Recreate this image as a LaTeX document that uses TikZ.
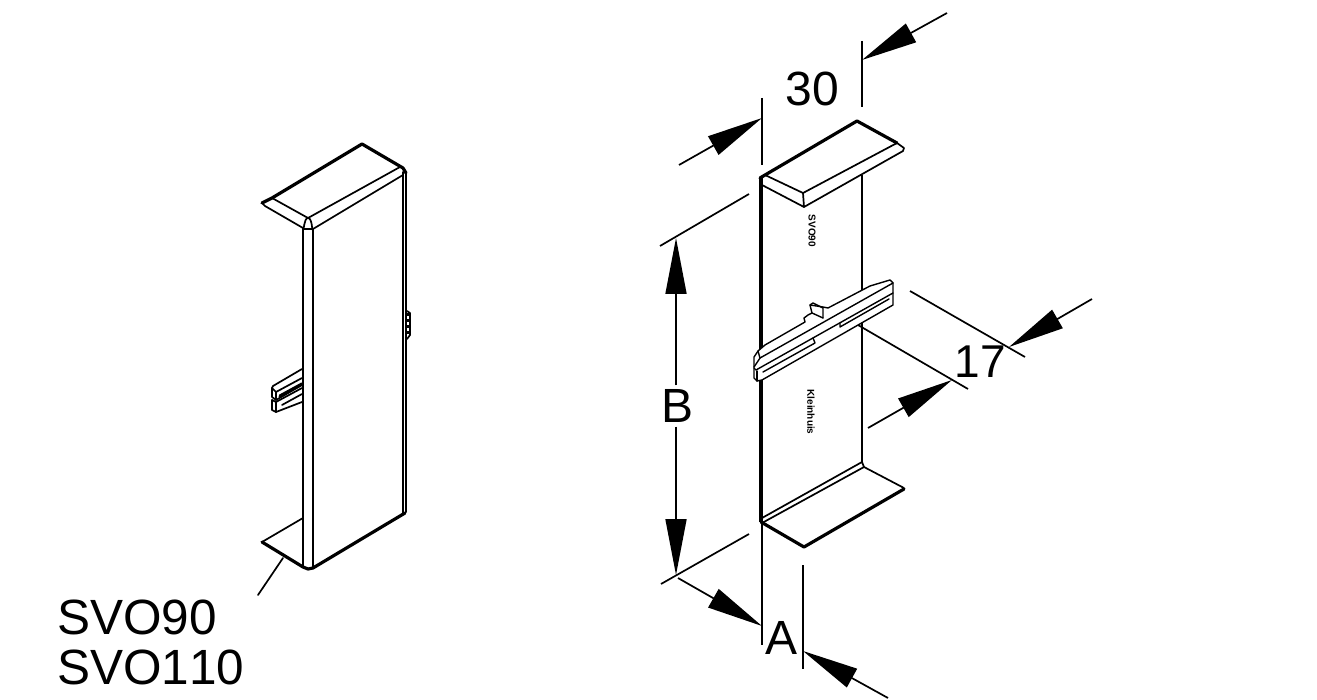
\documentclass[tikz,border=0pt]{standalone}
\usepackage{fontspec}
\setmainfont{Liberation Sans}
\usetikzlibrary{arrows.meta}
\tikzset{
  thin line/.style={line width=1.7pt,line join=round,line cap=round},
  clip line/.style={line width=1.4pt,line join=round,line cap=round},
  thick line/.style={line width=3.2pt,line join=round,line cap=round},
  body/.style={clip line,fill=white},
  dimline/.style={line width=1.7pt,-{Triangle[length=56pt,width=21pt]}},
  extline/.style={line width=1.7pt},
  lab/.style={font=\fontsize{48}{48}\selectfont,inner sep=0pt},
  codelab/.style={font=\fontsize{49.5}{49.5}\selectfont\addfontfeature{Kerning=Off},inner sep=0pt,anchor=base west},
  mark text/.style={font=\fontsize{10}{10}\selectfont\bfseries,inner sep=0pt,rotate=-90}
}
\begin{document}
\begin{tikzpicture}[x=1pt,y=-1pt]
\useasboundingbox (0,0) rectangle (1317,700);
\fill[white] (0,0) rectangle (1317,700);

% ---------- left part ----------
\draw[thin line] (303,228) -- (303,566);
\draw[thin line] (313,229) -- (313,567);
\draw[thin line] (403,172) -- (403,513);
\draw[thin line] (406,173) -- (406,512);
% top plate
\draw[thick line] (262,203) -- (272,198) -- (362,144) -- (403,168) -- (406,173);
\draw[thin line] (262,203) -- (265,206) -- (303,228);
\draw[thin line] (272,198) -- (308,218) -- (400,167);
\draw[thin line] (313,229) -- (403,175);
\draw[thin line] (303,228) to[out=-75,in=180] (308,218) to[out=0,in=-105] (313,229);
\draw[thin line] (303,229) -- (313,229);
% bottom plate
\draw[thin line] (262,542) -- (303,518);
\draw[thick line] (262,542) -- (303,567) -- (308,569) -- (313,568) -- (405,513);
\draw[thin line] (283,558) -- (258,595);
% rear clip
\draw[thin line,fill=white] (407,311) -- (410,313) -- (410,335) -- (407,339);
\draw[line width=2.5pt,dash pattern=on 3pt off 3pt] (408.5,313) -- (408.5,336);
% front clip
\draw[thin line] (302,369) -- (273,386) -- (272,388) -- (272,397) -- (276,400) -- (302,385);
\draw[thin line] (272,388) -- (276,392) -- (276,400);
\draw[thin line] (276,392) -- (302,378);
\draw[thick line] (280,396) -- (302,384);
\draw[thin line] (272,400) -- (272,410) -- (276,412) -- (302,402);
\draw[thin line] (272,400) -- (276,402) -- (276,412);
\draw[thin line] (276,402) -- (302,388);
\draw[thin line] (282,405) -- (302,394);

% ---------- right part ----------
\draw[extline] (862,175) -- (862,462);
\draw[line width=3.2pt] (761,178) -- (761,522);
\draw[extline] (762,522) -- (762,645);
% top plate
\draw[thick line] (760,178) -- (765,175) -- (857,121) -- (897,143);
\draw[thin line] (897,143) -- (904,148) -- (903,151) -- (804,207) -- (762,185);
\draw[thin line] (765,175) -- (803,193) -- (804,207);
\draw[thin line] (803,193) -- (897,143);
\draw[thin line] (760,179) -- (762,185);
% bottom plate
\draw[thin line] (762,518) -- (862,462) -- (864,467) -- (904,488);
\draw[thin line] (762,523) -- (864,467);
\draw[thick line] (761,522) -- (804,547) -- (904,489);
% wall lettering
\node[mark text] (m1) at (812,231) {SVO90};
\node[mark text] (m2) at (811,412) {Kleinhuis};
% clip
\draw[body] (890,280) -- (870,286) -- (828,308) -- (823,307) -- (810,305)
  -- (812,313) -- (808,315) -- (804,318) -- (805,322) -- (765,345) -- (758,351)
  -- (754,357) -- (754,378) -- (757,381) -- (762,380) -- (893,305) -- (893,283) -- cycle;
\draw[clip line] (758,351) -- (760,358) -- (754,367);
\draw[clip line] (760,358) -- (893,283);
\draw[clip line] (754,368) -- (756,370) -- (893,293);
\draw[clip line] (757,371) -- (757,381);
\draw[clip line] (810,305) -- (813,303) -- (823,308) -- (823,318);
\draw[clip line] (812,313) -- (823,318);
% slots
\draw[clip line] (813,338) -- (815,343) -- (763,372);
\draw[clip line] (840,323) -- (840,327) -- (889,299);

% ---------- dimensions ----------
\coordinate (e1a) at (762,98);  \coordinate (e1b) at (762,165);
\coordinate (e2a) at (862,41);  \coordinate (e2b) at (862,107);
\draw[extline] (e1a) -- (e1b);
\draw[extline] (e2a) -- (e2b);
\coordinate (t1) at (679,165); \coordinate (h1) at (762,118);
\coordinate (t2) at (947,13);  \coordinate (h2) at (862,60);
\draw[dimline] (t1) -- (h1);
\draw[dimline] (t2) -- (h2);
\node[lab] (n30) at (812,89) {30};

\coordinate (e3a) at (660,246); \coordinate (e3b) at (749,194);
\coordinate (e4a) at (661,584); \coordinate (e4b) at (749,534);
\draw[extline] (e3a) -- (e3b);
\draw[extline] (e4a) -- (e4b);
\node[lab] (nB) at (677,406) {B};
\coordinate (h3) at (676,238); \coordinate (h4) at (676,575);
\draw[dimline] (nB.north) ++(-1,-4) -- (h3);
\draw[dimline] (nB.south) ++(-1,4) -- (h4);

\coordinate (e5a) at (803,565); \coordinate (e5b) at (803,669);
\draw[extline] (e5a) -- (e5b);
\coordinate (t5) at (678,578); \coordinate (h5) at (762,626);
\coordinate (t6) at (888,698); \coordinate (h6) at (803,651);
\draw[dimline] (t5) -- (h5);
\draw[dimline] (t6) -- (h6);
\node[lab] (nA) at (781,638) {A};

\coordinate (e6a) at (910,291); \coordinate (e6b) at (1025,357);
\coordinate (e7a) at (858,325); \coordinate (e7b) at (968,389);
\draw[extline] (e6a) -- (e6b);
\draw[extline] (e7a) -- (e7b);
\coordinate (t7) at (1092,299); \coordinate (h7) at (1009,347);
\coordinate (t8) at (868,428);  \coordinate (h8) at (952,380);
\draw[dimline] (t7) -- (h7);
\draw[dimline] (t8) -- (h8);
\node[lab,font=\fontsize{46}{46}\selectfont] (n17) at (980,362) {17};

\node[codelab] (s1) at (57,634) {SVO90};
\node[codelab] (s2) at (57,684) {SVO110};
\end{tikzpicture}
\end{document}
